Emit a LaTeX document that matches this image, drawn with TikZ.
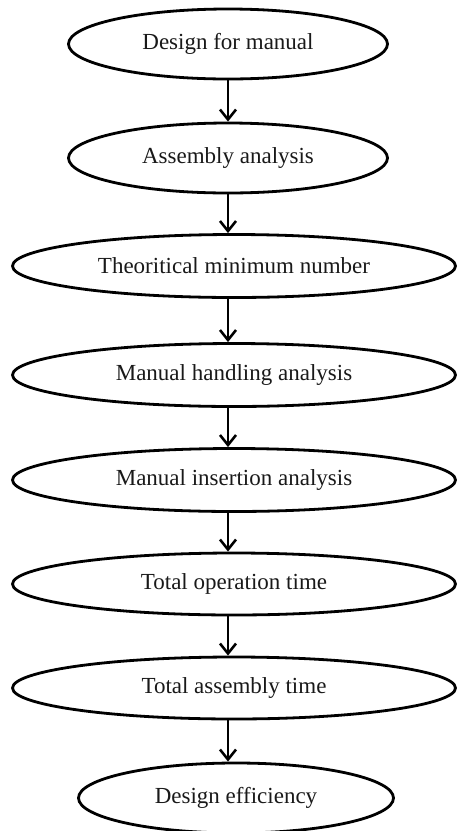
\documentclass[tikz,border=0pt]{standalone}
\usepackage{fontspec}
\setmainfont{Liberation Serif}
\usetikzlibrary{shapes.geometric,arrows.meta}
\tikzset{stage/.style={ellipse,draw=black,line width=2.8pt,inner sep=0pt,
                       minimum width=319pt,minimum height=70pt,
                       font=\fontsize{23}{27}\selectfont,text=black!90},
        widestage/.style={stage,minimum width=443pt,minimum height=63pt},
        flow/.style={line width=2.6pt,-{Straight Barb[length=10pt,width=16pt,line width=2.6pt]}},
        }

\begin{document}
\begin{tikzpicture}[x=1pt,y=-1pt]
    \useasboundingbox (0,0) rectangle (458,831);

    \node[stage] (design) at (228,44) {Design for manual};
    \node[stage] (assembly) at (228,158) {Assembly analysis};
    \node[widestage] (minimum) at (234,266) {Theoritical minimum number};
    \node[widestage] (handling) at (234,375) {Manual handling analysis};
    \node[widestage] (insertion) at (234,480) {Manual insertion analysis};
    \node[widestage,minimum height=62pt] (operation) at (234,584) {Total operation time};
    \node[widestage,minimum height=62pt] (total) at (234,688) {Total assembly time};
    \node[stage,minimum width=315pt] (efficiency) at (236,798) {Design efficiency};

    \draw[flow] (design.south -| design) -- (assembly.north -| design);
    \draw[flow] (assembly.south -| design) -- (minimum.north -| design);
    \draw[flow] (minimum.south -| design) -- (handling.north -| design);
    \draw[flow] (handling.south -| design) -- (insertion.north -| design);
    \draw[flow] (insertion.south -| design) -- (operation.north -| design);
    \draw[flow] (operation.south -| design) -- (total.north -| design);
    \draw[flow] (total.south -| design) -- (efficiency.north -| design);
\end{tikzpicture}
\end{document}
